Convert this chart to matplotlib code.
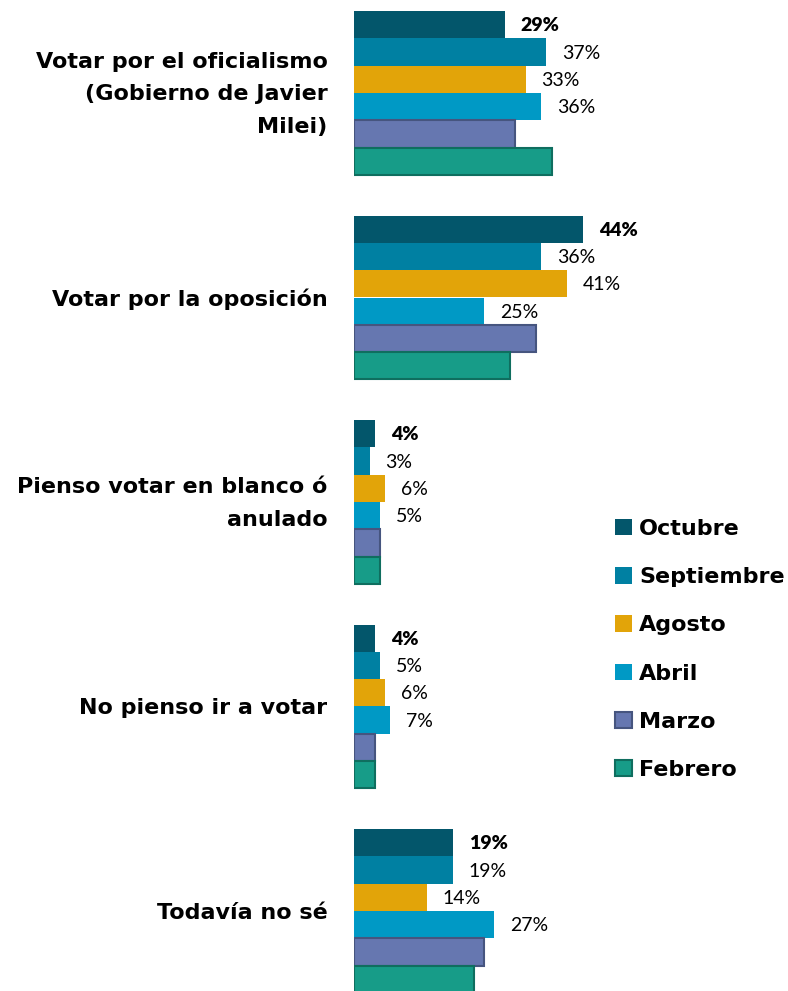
import matplotlib
matplotlib.use("Agg")
import matplotlib.pyplot as plt
import matplotlib.transforms as mtransforms
import numpy as np

# categorias y series
categorias = ["Votar por el oficialismo\n(Gobierno de Javier\nMilei)",
              "Votar por la oposición",
              "Pienso votar en blanco ó\nanulado",
              "No pienso ir a votar",
              "Todavía no sé"]
meses = ["Octubre", "Septiembre", "Agosto", "Abril", "Marzo", "Febrero"]
octubre = [29, 44, 4, 4, 19]
septiembre = [37, 36, 3, 5, 19]
agosto = [33, 41, 6, 6, 14]
abril = [36, 25, 5, 7, 27]
marzo = [31, 35, 5, 4, 25]
febrero = [38, 30, 5, 4, 23]
series = [octubre, septiembre, agosto, abril, marzo, febrero]
con_etiqueta = [True, True, True, True, False, False]

colores = ["#03566B", "#0080A2", "#E2A409", "#0099C5", "#6677B0", "#179C88"]
bordes = ["#03566B", "#0080A2", "#E2A409", "#0099C5", "#46557F", "#0F6E5F"]

fig = plt.figure(figsize=(7.88, 9.91), dpi=100)
ax = fig.add_axes([354/788, 0, 1 - 354/788, 1])

n = len(meses)
h = 27.3 / 204.5
y = np.arange(len(categorias))
for i, (mes, vals) in enumerate(zip(meses, series)):
    pos = y - 0.5 * n * h + (i + 0.5) * h
    lw = 1.5 if i >= 4 else 0
    ax.barh(pos, vals, height=h, color=colores[i], edgecolor=bordes[i],
            linewidth=lw, label=mes)
    if con_etiqueta[i]:
        for p, v in zip(pos, vals):
            ax.annotate(f"{v}%", (v, p), xytext=(16, -1), textcoords="offset pixels",
                        va="center", ha="left", fontsize=14,
                        fontweight="heavy" if i == 0 else "normal",
                        color="black", family="Lato")

ax.set_xlim(0, 434 / 5.2)
ax.set_ylim(4 + 80 / 204.5, -93 / 204.5)
ax.set_yticks(y)
ax.set_yticklabels(categorias, fontsize=16, fontweight="bold", linespacing=1.8,
                   family="DejaVu Sans")
ax.tick_params(axis="y", length=0, pad=19)
# subir un poco las etiquetas de varias lineas
for lab in ax.get_yticklabels():
    if "\n" in lab.get_text():
        lab.set_transform(lab.get_transform() +
                          mtransforms.ScaledTranslation(0, 7 / 100, fig.dpi_scale_trans))
ax.set_xticks([])
for s in ax.spines.values():
    s.set_visible(False)

fig.legend(loc="upper left", bbox_to_anchor=(606/788, 1 - 510/991), frameon=False,
           prop={"size": 16, "weight": "bold", "family": "DejaVu Sans"},
           handlelength=0.75, handleheight=0.75, handletextpad=0.35, labelspacing=1.27,
           borderaxespad=0)

fig.savefig("out.png", dpi=100)
